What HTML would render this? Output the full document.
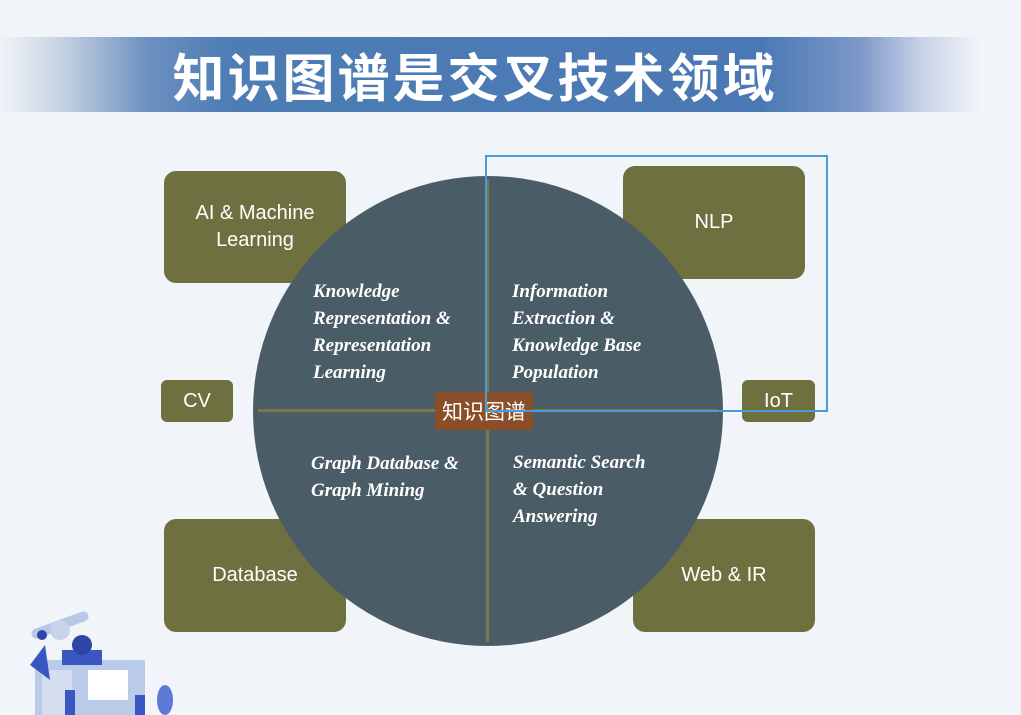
<!DOCTYPE html>
<html><head><meta charset="utf-8"><style>
body{margin:0;width:1021px;height:715px;background:#f1f4f9;position:relative;overflow:hidden;font-family:"Liberation Sans","Noto Sans CJK SC",sans-serif}
.banner{position:absolute;left:0;top:37px;width:1021px;height:75px;background:linear-gradient(90deg,rgba(240,243,248,1) 0px,#c8d3e2 60px,#6b8fbf 150px,#4d7db4 230px,#4a78b4 760px,#7d98c9 860px,#c6d0e6 920px,#f1f4f9 980px)}
.title{position:absolute;left:0;width:950px;top:37px;height:75px;line-height:75px;text-align:center;color:#fff;font-size:52px;font-weight:bold;letter-spacing:3px;font-family:"Noto Sans CJK SC",sans-serif}
.box{position:absolute;background:#6e713f;border-radius:12px;color:#fff;font-size:20px;display:flex;align-items:center;justify-content:center;text-align:center;line-height:27px}
.circle{position:absolute;left:253px;top:176px;width:470px;height:470px;border-radius:50%;background:#4a5d67}
.t{position:absolute;color:#fff;font-family:"Liberation Serif",serif;font-style:italic;font-weight:bold;font-size:19px;line-height:27px}
</style></head><body>
<div class="banner"></div>
<div class="title">知识图谱是交叉技术领域</div>
<div class="box" style="left:164px;top:171px;width:182px;height:112px">AI &amp; Machine<br>Learning</div>
<div class="box" style="left:623px;top:166px;width:182px;height:113px">NLP</div>
<div class="box" style="left:161px;top:380px;width:72px;height:42px;border-radius:6px">CV</div>
<div class="box" style="left:742px;top:380px;width:73px;height:42px;border-radius:6px">IoT</div>
<div class="box" style="left:164px;top:519px;width:182px;height:113px">Database</div>
<div class="box" style="left:633px;top:519px;width:182px;height:113px">Web &amp; IR</div>
<div class="circle"></div>
<div style="position:absolute;left:258px;top:409px;width:460px;height:3px;background:#7a7a45"></div>
<div style="position:absolute;left:486px;top:180px;width:3px;height:462px;background:#7a7a45"></div>
<div class="t" style="left:313px;top:278px">Knowledge<br>Representation &amp;<br>Representation<br>Learning</div>
<div class="t" style="left:512px;top:278px">Information<br>Extraction &amp;<br>Knowledge Base<br>Population</div>
<div class="t" style="left:311px;top:450px">Graph Database &amp;<br>Graph Mining</div>
<div class="t" style="left:513px;top:449px">Semantic Search<br>&amp; Question<br>Answering</div>
<div style="position:absolute;left:435px;top:392px;width:98px;height:38px;background:#8a4f28;color:#fff;font-size:21px;line-height:38px;text-align:center;font-family:'Noto Sans CJK SC',sans-serif">知识图谱</div>
<div style="position:absolute;left:485px;top:155px;width:339px;height:253px;border:2px solid #4a9ad6"></div>
<svg style="position:absolute;left:0;top:590px" width="200" height="125">
<rect x="30" y="30" width="60" height="10" rx="5" fill="#b8c8e6" transform="rotate(-20 60 35)"/>
<circle cx="60" cy="40" r="10" fill="#c5d3ec"/>
<rect x="35" y="70" width="110" height="55" fill="#b9cbe8"/>
<rect x="42" y="80" width="30" height="45" fill="#d4def0"/>
<rect x="88" y="80" width="40" height="30" fill="#fff"/>
<rect x="62" y="60" width="40" height="15" fill="#3a56c0"/>
<circle cx="82" cy="55" r="10" fill="#2e45a8"/>
<circle cx="42" cy="45" r="5" fill="#2e45a8"/>
<path d="M30 75 L45 55 L50 90 Z" fill="#3a56c0"/>
<rect x="65" y="100" width="10" height="25" fill="#3a56c0"/>
<rect x="135" y="105" width="10" height="20" fill="#3a56c0"/>
<ellipse cx="165" cy="110" rx="8" ry="15" fill="#5a7ad6"/>
</svg>
</body></html>
